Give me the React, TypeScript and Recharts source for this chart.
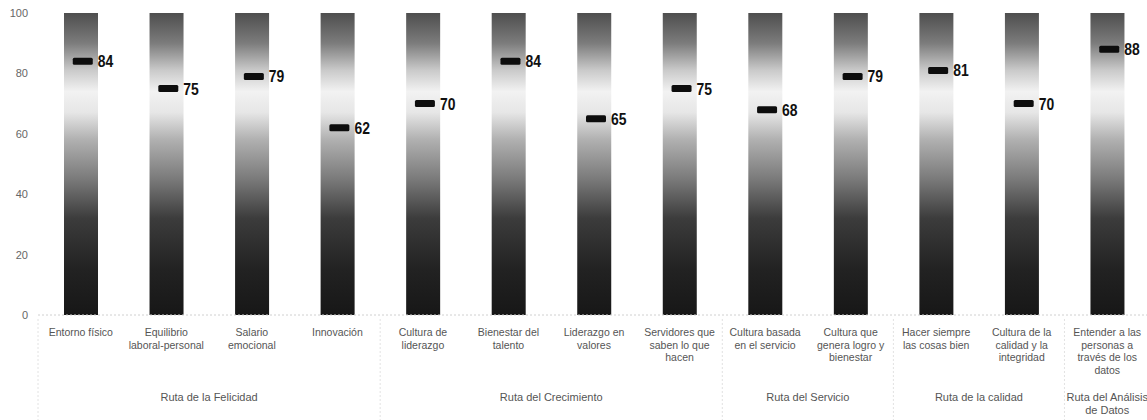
import React from "react";
import { ComposedChart, Bar, Scatter, XAxis, YAxis } from "recharts";

// category labels, split into the lines shown under each bar
export const categoryLines = [
  ["Entorno físico"],
  ["Equilibrio", "laboral-personal"],
  ["Salario", "emocional"],
  ["Innovación"],
  ["Cultura de", "liderazgo"],
  ["Bienestar del", "talento"],
  ["Liderazgo en", "valores"],
  ["Servidores que", "saben lo que", "hacen"],
  ["Cultura basada", "en el servicio"],
  ["Cultura que", "genera logro y", "bienestar"],
  ["Hacer siempre", "las cosas bien"],
  ["Cultura de la", "calidad y la", "integridad"],
  ["Entender a las", "personas a", "través de los", "datos"],
];

export const scores = [84, 75, 79, 62, 70, 84, 65, 75, 68, 79, 81, 70, 88];

export const groupLines = [
  ["Ruta de la Felicidad"],
  ["Ruta del Crecimiento"],
  ["Ruta del Servicio"],
  ["Ruta de la calidad"],
  ["Ruta del Análisis", "de Datos"],
];
export const groupSizes = [4, 4, 2, 2, 1];

export const scaleMax = 100;
export const yTicks = [0, 20, 40, 60, 80, 100];

const CHART_W = 1150;
const CHART_H = 420;
const Y_AXIS_W = 38;
const X_AXIS_H = 105;
const STEP = (CHART_W - Y_AXIS_W) / categoryLines.length;

const groupStarts = groupSizes.map((_, g) =>
  groupSizes.slice(0, g).reduce((a, b) => a + b, 0)
);

const data = categoryLines.map((lines, i) => ({
  name: lines.join(" "),
  lines,
  score: scores[i],
  full: scaleMax,
}));

const textFont = "'Liberation Sans', Arial, sans-serif";

function CategoryTick(props: any) {
  const { x, y, payload } = props;
  const i = payload.index;
  const lines = categoryLines[i];
  const g = groupStarts.indexOf(i);
  return (
    <g>
      <text textAnchor="middle" fill="#555" fontSize={10.5} fontFamily={textFont}>
        {lines.map((l, k) => (
          <tspan key={k} x={x} y={y + 21 + k * 12.5}>
            {l}
          </tspan>
        ))}
      </text>
      {g >= 0 && (
        <line
          x1={x - STEP / 2}
          x2={x - STEP / 2}
          y1={y + 4}
          y2={CHART_H}
          stroke="#e2e2e2"
          strokeDasharray="2 2"
        />
      )}
      {g >= 0 && (
        <text textAnchor="middle" fill="#555" fontSize={11} fontFamily={textFont}>
          {groupLines[g].map((l, k) => (
            <tspan key={k} x={x + ((groupSizes[g] - 1) * STEP) / 2} y={y + 86 + k * 13}>
              {l}
            </tspan>
          ))}
        </text>
      )}
    </g>
  );
}

function ScoreMarker(props: any) {
  const { cx, cy, payload } = props;
  return (
    <g>
      <rect x={cx - 8} y={cy - 3.5} width={20} height={7} rx={1.5} fill="#0d0d0d" />
      <text
        transform={`translate(${cx + 17},${cy}) scale(0.82,1)`}
        dominantBaseline="central"
        fontSize={17}
        fontWeight="bold"
        fill="#111"
        fontFamily={textFont}
      >
        {payload.score}
      </text>
    </g>
  );
}

export default function App() {
  return (
    <div
      style={{
        position: "absolute",
        left: 0,
        top: 0,
        width: 1147,
        height: CHART_H,
        overflow: "hidden",
        background: "#fff",
      }}
    >
      <ComposedChart
        width={CHART_W}
        height={CHART_H}
        data={data}
        margin={{ top: 13, right: 0, bottom: 0, left: 0 }}
      >
        <defs>
          <linearGradient id="barShade" x1="0" y1="0" x2="0" y2="1">
            <stop offset="0" stopColor="#4e4e4e" />
            <stop offset="0.1" stopColor="#7c7c7c" />
            <stop offset="0.19" stopColor="#cacaca" />
            <stop offset="0.26" stopColor="#f2f2f2" />
            <stop offset="0.33" stopColor="#e6e6e6" />
            <stop offset="0.42" stopColor="#b0b0b0" />
            <stop offset="0.55" stopColor="#7a7a7a" />
            <stop offset="0.68" stopColor="#3c3c3c" />
            <stop offset="0.85" stopColor="#222" />
            <stop offset="1" stopColor="#171717" />
          </linearGradient>
        </defs>
        <XAxis
          dataKey="name"
          height={X_AXIS_H}
          interval={0}
          tickLine={false}
          tickSize={0}
          tickMargin={0}
          axisLine={{ stroke: "#d0d0d0", strokeDasharray: "2 2" }}
          tick={<CategoryTick />}
        />
        <YAxis
          width={Y_AXIS_W}
          domain={[0, scaleMax]}
          ticks={yTicks}
          tickLine={false}
          tickSize={0}
          tickMargin={10}
          axisLine={false}
          tick={{ fill: "#666", fontSize: 11, fontFamily: textFont }}
        />
        <Bar dataKey="full" barSize={34} fill="url(#barShade)" isAnimationActive={false} />
        <Scatter dataKey="score" shape={<ScoreMarker />} isAnimationActive={false} />
      </ComposedChart>
    </div>
  );
}
